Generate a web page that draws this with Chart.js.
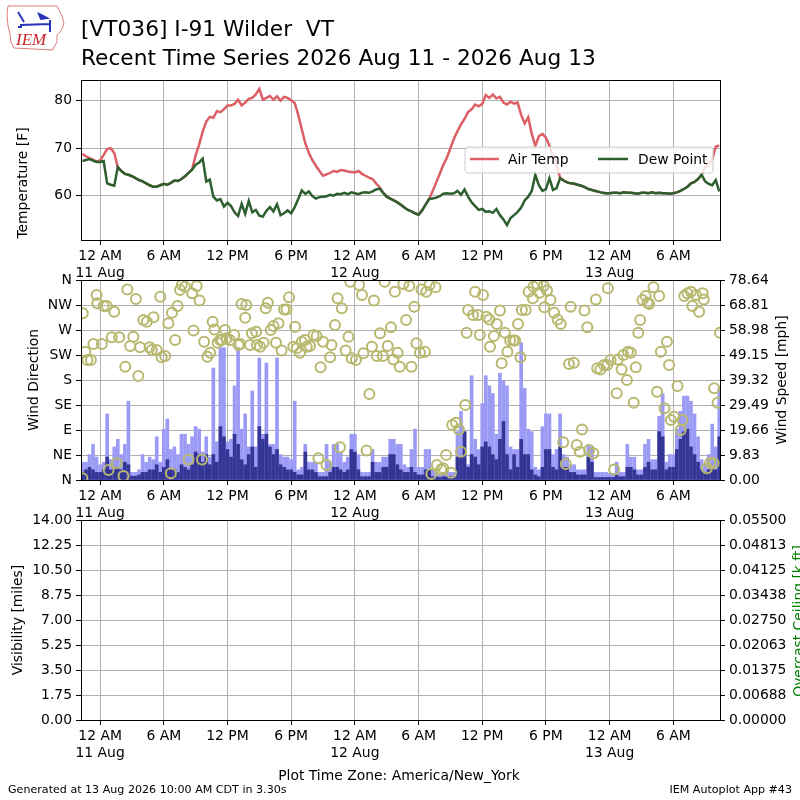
<!DOCTYPE html>
<html>
<head>
<meta charset="utf-8">
<script src="https://cdn.jsdelivr.net/npm/chart.js@4.4.1/dist/chart.umd.min.js"></script>
<style>
  body { margin: 0; background: #fff; }
  #page { position: relative; width: 800px; height: 800px; overflow: hidden; font-family: 'DejaVu Sans'; }
  .panel { position: absolute; left: 0; width: 800px; }
  #overlay { position: absolute; left: 0; top: 0; font-family: 'DejaVu Sans'; }
  #overlay text { font-size: 13.9px; fill: #000; }
</style>
</head>
<body>
<div id="page">
  <div class="panel" style="top:66px;height:214px"><canvas id="tempChart" width="800" height="214"></canvas></div>
  <div class="panel" style="top:266px;height:254px"><canvas id="windChart" width="800" height="254"></canvas></div>
  <div class="panel" style="top:506px;height:254px"><canvas id="visChart" width="800" height="254"></canvas></div>

  <svg id="overlay" width="800" height="800">
    <!-- IEM logo -->
    <path d="M8 6 L57 6 L59 10 L62 16 L64 24 L61 31 L57 35 L57 42 L54 47 L53 50 L14 48 L11 42 L10 34 L8 26 L7 15 Z"
          fill="none" stroke="#e07a7a" stroke-width="1"/>
    <path d="M18 12 L24 22 M20 25 L50 24 M39 14 L47 18 L41 19 Z M50 20 L50 32 M22 27 L18 27" stroke="#2a35b8" stroke-width="2" fill="#2a35b8"/>
    <text x="16" y="45" style="font-family:'Liberation Serif';font-style:italic;font-size:17px;fill:#c8242b">IEM</text>

    <text x="81" y="36" style="font-size:21.7px;white-space:pre">[VT036] I-91 Wilder  VT</text>
    <text x="81" y="65" style="font-size:21.7px">Recent Time Series 2026 Aug 11 - 2026 Aug 13</text>

    <text transform="translate(22,183) rotate(-90)" text-anchor="middle" dominant-baseline="central">Temperature [F]</text>
    <text transform="translate(33,380) rotate(-90)" text-anchor="middle" dominant-baseline="central">Wind Direction</text>
    <text transform="translate(781,380) rotate(-90)" text-anchor="middle" dominant-baseline="central">Wind Speed [mph]</text>
    <text transform="translate(17,620) rotate(-90)" text-anchor="middle" dominant-baseline="central">Visibility [miles]</text>
    <text transform="translate(798,621) rotate(-90)" text-anchor="middle" dominant-baseline="central" style="fill:#008000">Overcast Ceiling [k ft]</text>

    <rect x="465" y="147" width="248" height="26" rx="3" fill="#fff" fill-opacity="0.8" stroke="#cccccc"/>
    <line x1="470" y1="159" x2="499" y2="159" stroke="#dc5f66" stroke-width="2.5"/>
    <text x="508" y="164">Air Temp</text>
    <line x1="598" y1="159" x2="628" y2="159" stroke="#2d5e2e" stroke-width="2.5"/>
    <text x="638" y="164">Dew Point</text>

    <text x="399" y="780" text-anchor="middle">Plot Time Zone: America/New_York</text>
    <text x="8" y="793" style="font-size:11.1px">Generated at 13 Aug 2026 10:00 AM CDT in 3.30s</text>
    <text x="792" y="793" text-anchor="end" style="font-size:11.1px">IEM Autoplot App #43</text>
  </svg>
</div>

<script>
// hours after 12 AM 11 Aug (America/New_York), obs every 20 minutes from 10:20 PM 10 Aug
const startHour = -5 / 3;
const stepHour = 1 / 3;
const xMin = -1.8;
const xMax = 58.4;

const xTickHours = [0, 6, 12, 18, 24, 30, 36, 42, 48, 54];
const xTickLabels = [['12 AM', '11 Aug'], '6 AM', '12 PM', '6 PM', ['12 AM', '12 Aug'],
  '6 AM', '12 PM', '6 PM', ['12 AM', '13 Aug'], '6 AM'];

const airTemp = [
  68.8, 68.3, 67.9, 67.6, 67.2, 67.4, 68.6, 69.8, 70.0, 69.0,
  66.0, 65.2, 64.6, 64.4, 64.1, 63.7, 63.3, 63.0, 62.6, 62.2,
  61.9, 61.9, 62.2, 62.5, 62.3, 62.7, 63.2, 63.1, 63.5, 64.1,
  64.8, 65.5, 68.5, 70.8, 73.5, 75.6, 76.6, 76.4, 77.8, 77.6,
  78.2, 79.0, 79.0, 79.3, 80.2, 79.0, 79.6, 80.4, 80.6, 81.3,
  82.5, 80.2, 80.6, 81.0, 80.2, 80.9, 80.0, 80.8, 80.6, 80.1,
  79.5, 77.0, 74.0, 71.0, 69.0, 67.5, 66.3, 65.2, 64.2, 64.5,
  64.8, 65.2, 65.0, 65.4, 65.3, 65.1, 65.0, 64.9, 65.2, 64.6,
  64.2, 63.8, 63.5, 62.6, 61.8, 60.6, 59.8, 59.4, 59.0, 58.6,
  58.1, 57.5, 57.0, 56.7, 56.3, 56.0, 56.9, 58.1, 59.3, 61.0,
  62.8, 64.6, 66.5, 68.0, 70.0, 72.0, 73.6, 75.0, 76.2, 77.6,
  78.2, 79.2, 78.8, 79.3, 81.2, 80.6, 81.3, 80.5, 80.8, 79.6,
  79.2, 79.8, 79.4, 79.6, 77.0, 75.2, 76.5, 73.0, 70.5, 72.5,
  73.0, 72.2, 70.5, 68.4, 66.5, 63.8, 63.2, 62.8, 62.6, 62.5,
  62.3, 62.1, 61.8, 61.4, 61.2, 61.0, 60.8, 60.6, 60.5, 60.5,
  60.6, 60.6, 60.5, 60.7, 60.6, 60.6, 60.5, 60.4, 60.6, 60.6,
  60.5, 60.7, 60.5, 60.6, 60.5, 60.5, 60.4, 60.5, 60.7, 61.0,
  61.4, 61.9, 62.6, 62.9, 63.5, 64.4, 66.0, 66.8, 67.6, 70.3,
  70.6
];
const dewPoint = [
  67.3, 67.5, 67.7, 67.4, 67.1, 67.1, 67.3, 62.6, 62.3, 62.1,
  66.0, 65.2, 64.6, 64.4, 64.1, 63.7, 63.3, 63.0, 62.6, 62.2,
  61.9, 61.9, 62.2, 62.5, 62.3, 62.7, 63.2, 63.1, 63.5, 64.1,
  64.8, 65.5, 66.5, 67.0, 67.8, 63.0, 63.4, 59.8, 59.0, 59.3,
  57.7, 58.5, 57.8, 56.5, 55.7, 58.3, 56.2, 58.9, 56.5, 57.0,
  55.8, 55.6, 56.8, 57.6, 56.7, 58.2, 55.9, 56.3, 56.9, 56.3,
  57.6, 59.3, 61.1, 60.4, 60.9, 59.9, 59.4, 59.7, 59.8, 59.9,
  60.2, 60.0, 60.4, 60.3, 60.6, 60.3, 60.7, 60.5, 60.3, 60.6,
  60.7, 60.6, 60.9, 61.3, 61.5, 60.6, 59.8, 59.4, 59.0, 58.6,
  58.1, 57.5, 57.0, 56.7, 56.3, 56.0, 56.9, 58.1, 59.3, 59.4,
  59.6, 59.9, 60.4, 60.5, 60.4, 60.5, 61.0, 60.2, 61.3, 59.8,
  58.6, 57.8, 57.0, 57.2, 56.6, 56.7, 56.4, 57.2, 55.9, 55.0,
  53.8, 55.3, 55.9, 56.6, 57.5, 59.0, 59.8, 61.0, 64.4, 62.2,
  61.0, 61.4, 63.7, 61.2, 61.6, 63.7, 63.2, 62.8, 62.6, 62.5,
  62.3, 62.1, 61.8, 61.4, 61.2, 61.0, 60.8, 60.6, 60.5, 60.5,
  60.6, 60.6, 60.5, 60.7, 60.6, 60.6, 60.5, 60.4, 60.6, 60.6,
  60.5, 60.7, 60.5, 60.6, 60.5, 60.5, 60.4, 60.5, 60.7, 61.0,
  61.4, 61.9, 62.6, 62.9, 63.5, 64.4, 63.0, 62.5, 62.2, 63.3,
  60.9
];
const tempTicks = [60, 70, 80];

// mph
const windGust = [
  7, 7, 10, 14, 9, 6, 7, 26, 8, 13,
  16, 10, 14, 31, 3, 3, 4, 10, 7, 9,
  8, 17, 7, 20, 24, 12, 13, 10, 18, 18,
  14, 17, 21, 20, 11, 17, 9, 44, 15, 52,
  52, 15, 16, 37, 52, 20, 26, 13, 35, 13,
  48, 18, 46, 14, 14, 48, 10, 9, 9, 8,
  31, 4, 5, 14, 7, 7, 7, 3, 3, 14,
  7, 14, 14, 11, 7, 9, 18, 18, 10, 3,
  3, 3, 12, 7, 7, 9, 9, 16, 16, 14,
  14, 6, 5, 12, 20, 5, 5, 12, 12, 4,
  3, 2, 3, 4, 3, 3, 19, 27, 19, 6,
  41, 16, 12, 30, 41, 37, 34, 18, 42, 39,
  37, 13, 12, 12, 54, 36, 20, 19, 5, 4,
  21, 26, 26, 10, 12, 26, 10, 9, 6, 6,
  4, 4, 4, 14, 13, 3, 3, 3, 3, 2.6,
  2.6, 7, 3, 3, 14, 9, 9, 4, 4, 14,
  16, 8, 8, 25, 34, 7, 10, 10, 20, 27,
  33, 33, 31, 26, 17, 8, 6, 10, 22, 13,
  36
];
const windSpeed = [
  3, 4, 5, 4, 3, 3, 4, 9, 4, 5,
  5, 4, 7, 6, 1.5, 1.5, 2, 3, 3, 4,
  4, 6, 3, 5, 8, 4, 4, 3, 6, 5,
  4, 6, 11, 10, 7, 10, 6, 10, 7, 21,
  17, 12, 9, 18, 14, 8, 6, 10, 13, 5,
  21, 16, 18, 13, 10, 12, 6, 5, 4, 4,
  3, 2, 2, 11, 4, 4, 3, 1.3, 1.3, 1.3,
  3, 5, 5, 4, 3, 4, 12, 11, 4, 1.3,
  1.3, 1.3, 7, 3, 3, 5, 5, 10, 10, 6,
  4, 3, 3, 5, 3, 2, 2, 4, 4, 1.3,
  1.3, 1, 1.3, 1.3, 1.3, 1.3, 9, 9, 19, 5,
  10, 9, 6, 13, 15, 13, 10, 8, 16, 23,
  10, 4, 10, 5, 16, 10, 10, 4, 2, 1.3,
  5, 12, 12, 5, 4, 13, 5, 5, 3, 3,
  2, 2, 2, 9, 7, 1, 1, 1, 1, 1,
  1, 2, 1.3, 1.3, 5, 5, 4, 2, 2, 5,
  7, 4, 4, 19, 17, 4, 5, 5, 12, 16,
  19, 20, 13, 10, 7, 4, 3, 4, 5, 4,
  17
];

// [hour, degrees]
const windDir = [
  [-1.67, 3], [-1.63, 300], [-1.4, 231], [-1.2, 216], [-0.87, 216], [-0.63, 245], [-0.33, 333], [-0.27, 318],
  [0.17, 245], [0.33, 313], [0.63, 313], [0.8, 18], [1.1, 257], [1.33, 303], [1.57, 30], [1.8, 257],
  [2.2, 7], [2.37, 204], [2.57, 343], [2.83, 241], [3.13, 258], [3.37, 326], [3.6, 187], [3.77, 239],
  [4.07, 288], [4.4, 285], [4.67, 239], [4.87, 234], [5.03, 293], [5.33, 234], [5.67, 330], [5.8, 221],
  [6.13, 223], [6.43, 282], [6.67, 12], [6.77, 301], [7.07, 252], [7.3, 313], [7.53, 342], [7.7, 351],
  [8.0, 348], [8.33, 37], [8.67, 336], [8.8, 269], [9.1, 349], [9.37, 323], [9.6, 37], [9.8, 249],
  [10.1, 222], [10.37, 229], [10.6, 285], [10.77, 271], [11.07, 247], [11.3, 252], [11.47, 252], [11.77, 270],
  [11.93, 255], [12.23, 252], [12.63, 261], [13.03, 243], [13.2, 245], [13.33, 317], [13.67, 292], [13.77, 315],
  [14.13, 243], [14.3, 264], [14.7, 267], [14.77, 243], [15.07, 240], [15.4, 247], [15.6, 309], [15.8, 319],
  [16.07, 270], [16.33, 277], [16.57, 247], [16.8, 282], [17.1, 233], [17.33, 307], [17.57, 307], [17.8, 329],
  [18.2, 240], [18.37, 276], [18.53, 237], [18.83, 229], [19.0, 249], [19.3, 252], [19.47, 240], [19.77, 241],
  [20.1, 261], [20.4, 259], [20.57, 39], [20.77, 203], [21.0, 249], [21.33, 27], [21.67, 221], [21.8, 243],
  [22.13, 279], [22.37, 327], [22.6, 59], [22.77, 309], [23.13, 233], [23.4, 258], [23.57, 357], [23.7, 219],
  [24.1, 216], [24.4, 351], [24.67, 333], [24.8, 228], [25.1, 53], [25.37, 155], [25.6, 240], [25.8, 323],
  [26.07, 223], [26.37, 264], [26.63, 223], [26.8, 357], [27.1, 241], [27.4, 275], [27.63, 217], [27.77, 339],
  [28.03, 229], [28.23, 204], [28.57, 353], [28.83, 288], [29.13, 349], [29.33, 204], [29.6, 312], [29.8, 246],
  [30.13, 229], [30.27, 343], [30.6, 231], [30.73, 339], [31.03, 351], [31.2, 11], [31.6, 347], [31.73, 27],
  [32.13, 19], [32.33, 21], [32.6, 45], [33.07, 13], [33.17, 99], [33.53, 103], [33.8, 91], [34.0, 51],
  [34.4, 135], [34.53, 265], [34.67, 306], [35.13, 297], [35.33, 339], [35.6, 297], [35.77, 261], [36.07, 333],
  [36.4, 294], [36.67, 289], [36.73, 240], [37.1, 259], [37.37, 281], [37.67, 305], [37.83, 210], [38.13, 265],
  [38.37, 231], [38.63, 251], [38.93, 251], [39.1, 251], [39.37, 281], [39.6, 221], [39.73, 306], [40.1, 306],
  [40.37, 339], [40.77, 327], [40.83, 348], [41.17, 353], [41.4, 337], [41.8, 349], [41.85, 311], [42.1, 341],
  [42.43, 324], [42.77, 301], [43.1, 289], [43.4, 281], [43.63, 68], [43.87, 29], [44.17, 209], [44.33, 312],
  [44.63, 211], [44.9, 63], [45.2, 51], [45.4, 91], [45.63, 305], [45.9, 275], [46.07, 54], [46.47, 48],
  [46.7, 325], [46.83, 201], [47.13, 199], [47.47, 207], [47.77, 207], [47.83, 345], [48.1, 216], [48.43, 19],
  [48.67, 156], [48.77, 217], [49.13, 199], [49.3, 225], [49.63, 180], [49.73, 231], [50.0, 229], [50.27, 139],
  [50.47, 203], [50.7, 265], [50.87, 288], [51.1, 324], [51.4, 331], [51.57, 319], [51.73, 317], [52.13, 347],
  [52.47, 159], [52.67, 331], [52.83, 231], [53.17, 129], [53.4, 249], [53.6, 207], [53.77, 108], [54.07, 114],
  [54.4, 169], [54.7, 90], [54.87, 108], [55.03, 331], [55.33, 336], [55.67, 339], [55.8, 313], [56.13, 333],
  [56.43, 303], [56.77, 336], [56.87, 325], [57.17, 21], [57.47, 31], [57.8, 30], [57.85, 165], [58.17, 139],
  [58.4, 265]
];
const dirTicks = [0, 45, 90, 135, 180, 225, 270, 315, 360];
const dirLabels = ['N', 'NE', 'E', 'SE', 'S', 'SW', 'W', 'NW', 'N'];
const speedTicks = [0, 9.83, 19.66, 29.49, 39.32, 49.15, 58.98, 68.81, 78.64];

// no visibility / ceiling obs in this window
const visibility = [];
const ceiling = [];
const visTicks = [0, 1.75, 3.5, 5.25, 7, 8.75, 10.5, 12.25, 14];
const ceilTicks = [0, 0.006875, 0.01375, 0.020625, 0.0275, 0.034375, 0.04125, 0.048125, 0.055];
const ceilLabels = ['0.00000', '0.00688', '0.01375', '0.02063', '0.02750', '0.03438', '0.04125', '0.04813', '0.05500'];

const tickFont = { family: 'DejaVu Sans', size: 13.9 };

function series(values) {
  return values.map((v, i) => ({ x: startHour + i * stepHour, y: v }));
}

// black box round the plot area, like the matplotlib spines
const frame = {
  id: 'frame',
  afterDraw(chart) {
    const a = chart.chartArea;
    const ctx = chart.ctx;
    ctx.save();
    ctx.strokeStyle = '#000';
    ctx.lineWidth = 1;
    ctx.strokeRect(Math.round(a.left) + 0.5, Math.round(a.top) + 0.5,
      Math.round(a.right - a.left), Math.round(a.bottom - a.top));
    ctx.restore();
  }
};

function timeAxis() {
  return {
    type: 'linear',
    min: xMin,
    max: xMax,
    offset: false,
    afterBuildTicks: s => { s.ticks = xTickHours.map(v => ({ value: v })); },
    afterFit: s => { s.height = 40; },
    ticks: {
      autoSkip: false, maxRotation: 0, padding: 3, color: '#000', font: tickFont,
      callback: (v, i) => xTickLabels[i]
    },
    grid: { offset: false, color: '#b0b0b0', tickColor: '#000', tickLength: 5 },
    border: { color: '#000' }
  };
}

function valueAxis(position, min, max, ticks, labels, onChart) {
  return {
    type: 'linear',
    position: position,
    min: min,
    max: max,
    afterBuildTicks: s => { s.ticks = ticks.map(v => ({ value: v })); },
    afterFit: s => { s.width = position === 'left' ? 81 : 80; },
    ticks: {
      padding: 4, color: '#000', font: tickFont,
      callback: (v, i) => labels[i]
    },
    grid: { color: '#b0b0b0', tickColor: '#000', tickLength: 5, drawOnChartArea: onChart },
    border: { color: '#000' }
  };
}

// top padding is kept above the half-label overflow so the plot area stays where it is put
function baseOptions(scales, padRight) {
  return {
    responsive: false,
    animation: false,
    events: [],
    layout: { padding: { top: 14, right: padRight, left: 0, bottom: 0 } },
    plugins: { legend: { display: false }, tooltip: { enabled: false } },
    scales: scales
  };
}

new Chart(document.getElementById('tempChart'), {
  type: 'line',
  data: {
    datasets: [
      { label: 'Air Temp', data: series(airTemp), borderColor: '#dc5f66', borderWidth: 2.5,
        pointRadius: 0, order: 2 },
      { label: 'Dew Point', data: series(dewPoint), borderColor: '#2d5e2e', borderWidth: 2.5,
        pointRadius: 0, order: 1 }
    ]
  },
  options: baseOptions({
    x: timeAxis(),
    y: valueAxis('left', 50.67, 84.36, tempTicks, tempTicks.map(String), true)
  }, 80),
  plugins: [frame]
});

new Chart(document.getElementById('windChart'), {
  type: 'bar',
  data: {
    datasets: [
      { type: 'line', label: 'Wind Direction', data: windDir.map(d => ({ x: d[0], y: d[1] })),
        yAxisID: 'dir', showLine: false, pointRadius: 5, pointBorderWidth: 2,
        pointBorderColor: '#b8b86f', pointBackgroundColor: 'rgba(0,0,0,0)', clip: 0, order: 0 },
      { label: 'Wind Speed', data: series(windSpeed), yAxisID: 'spd', backgroundColor: '#353596',
        barThickness: 3, grouped: false, order: 1 },
      { label: 'Wind Gust', data: series(windGust), yAxisID: 'spd', backgroundColor: '#9b9bf6',
        barThickness: 3, grouped: false, order: 2 }
    ]
  },
  options: baseOptions({
    x: timeAxis(),
    dir: valueAxis('left', 0, 360, dirTicks, dirLabels, true),
    spd: valueAxis('right', 0, 78.64, speedTicks, speedTicks.map(v => v.toFixed(2)), false)
  }, 0),
  plugins: [frame]
});

new Chart(document.getElementById('visChart'), {
  type: 'line',
  data: {
    datasets: [
      { label: 'Visibility', data: visibility, yAxisID: 'vis' },
      { label: 'Overcast Ceiling', data: ceiling, yAxisID: 'ceil' }
    ]
  },
  options: baseOptions({
    x: timeAxis(),
    vis: valueAxis('left', 0, 14, visTicks, visTicks.map(v => v.toFixed(2)), true),
    ceil: valueAxis('right', 0, 0.055, ceilTicks, ceilLabels, false)
  }, 0),
  plugins: [frame]
});
</script>
</body>
</html>
